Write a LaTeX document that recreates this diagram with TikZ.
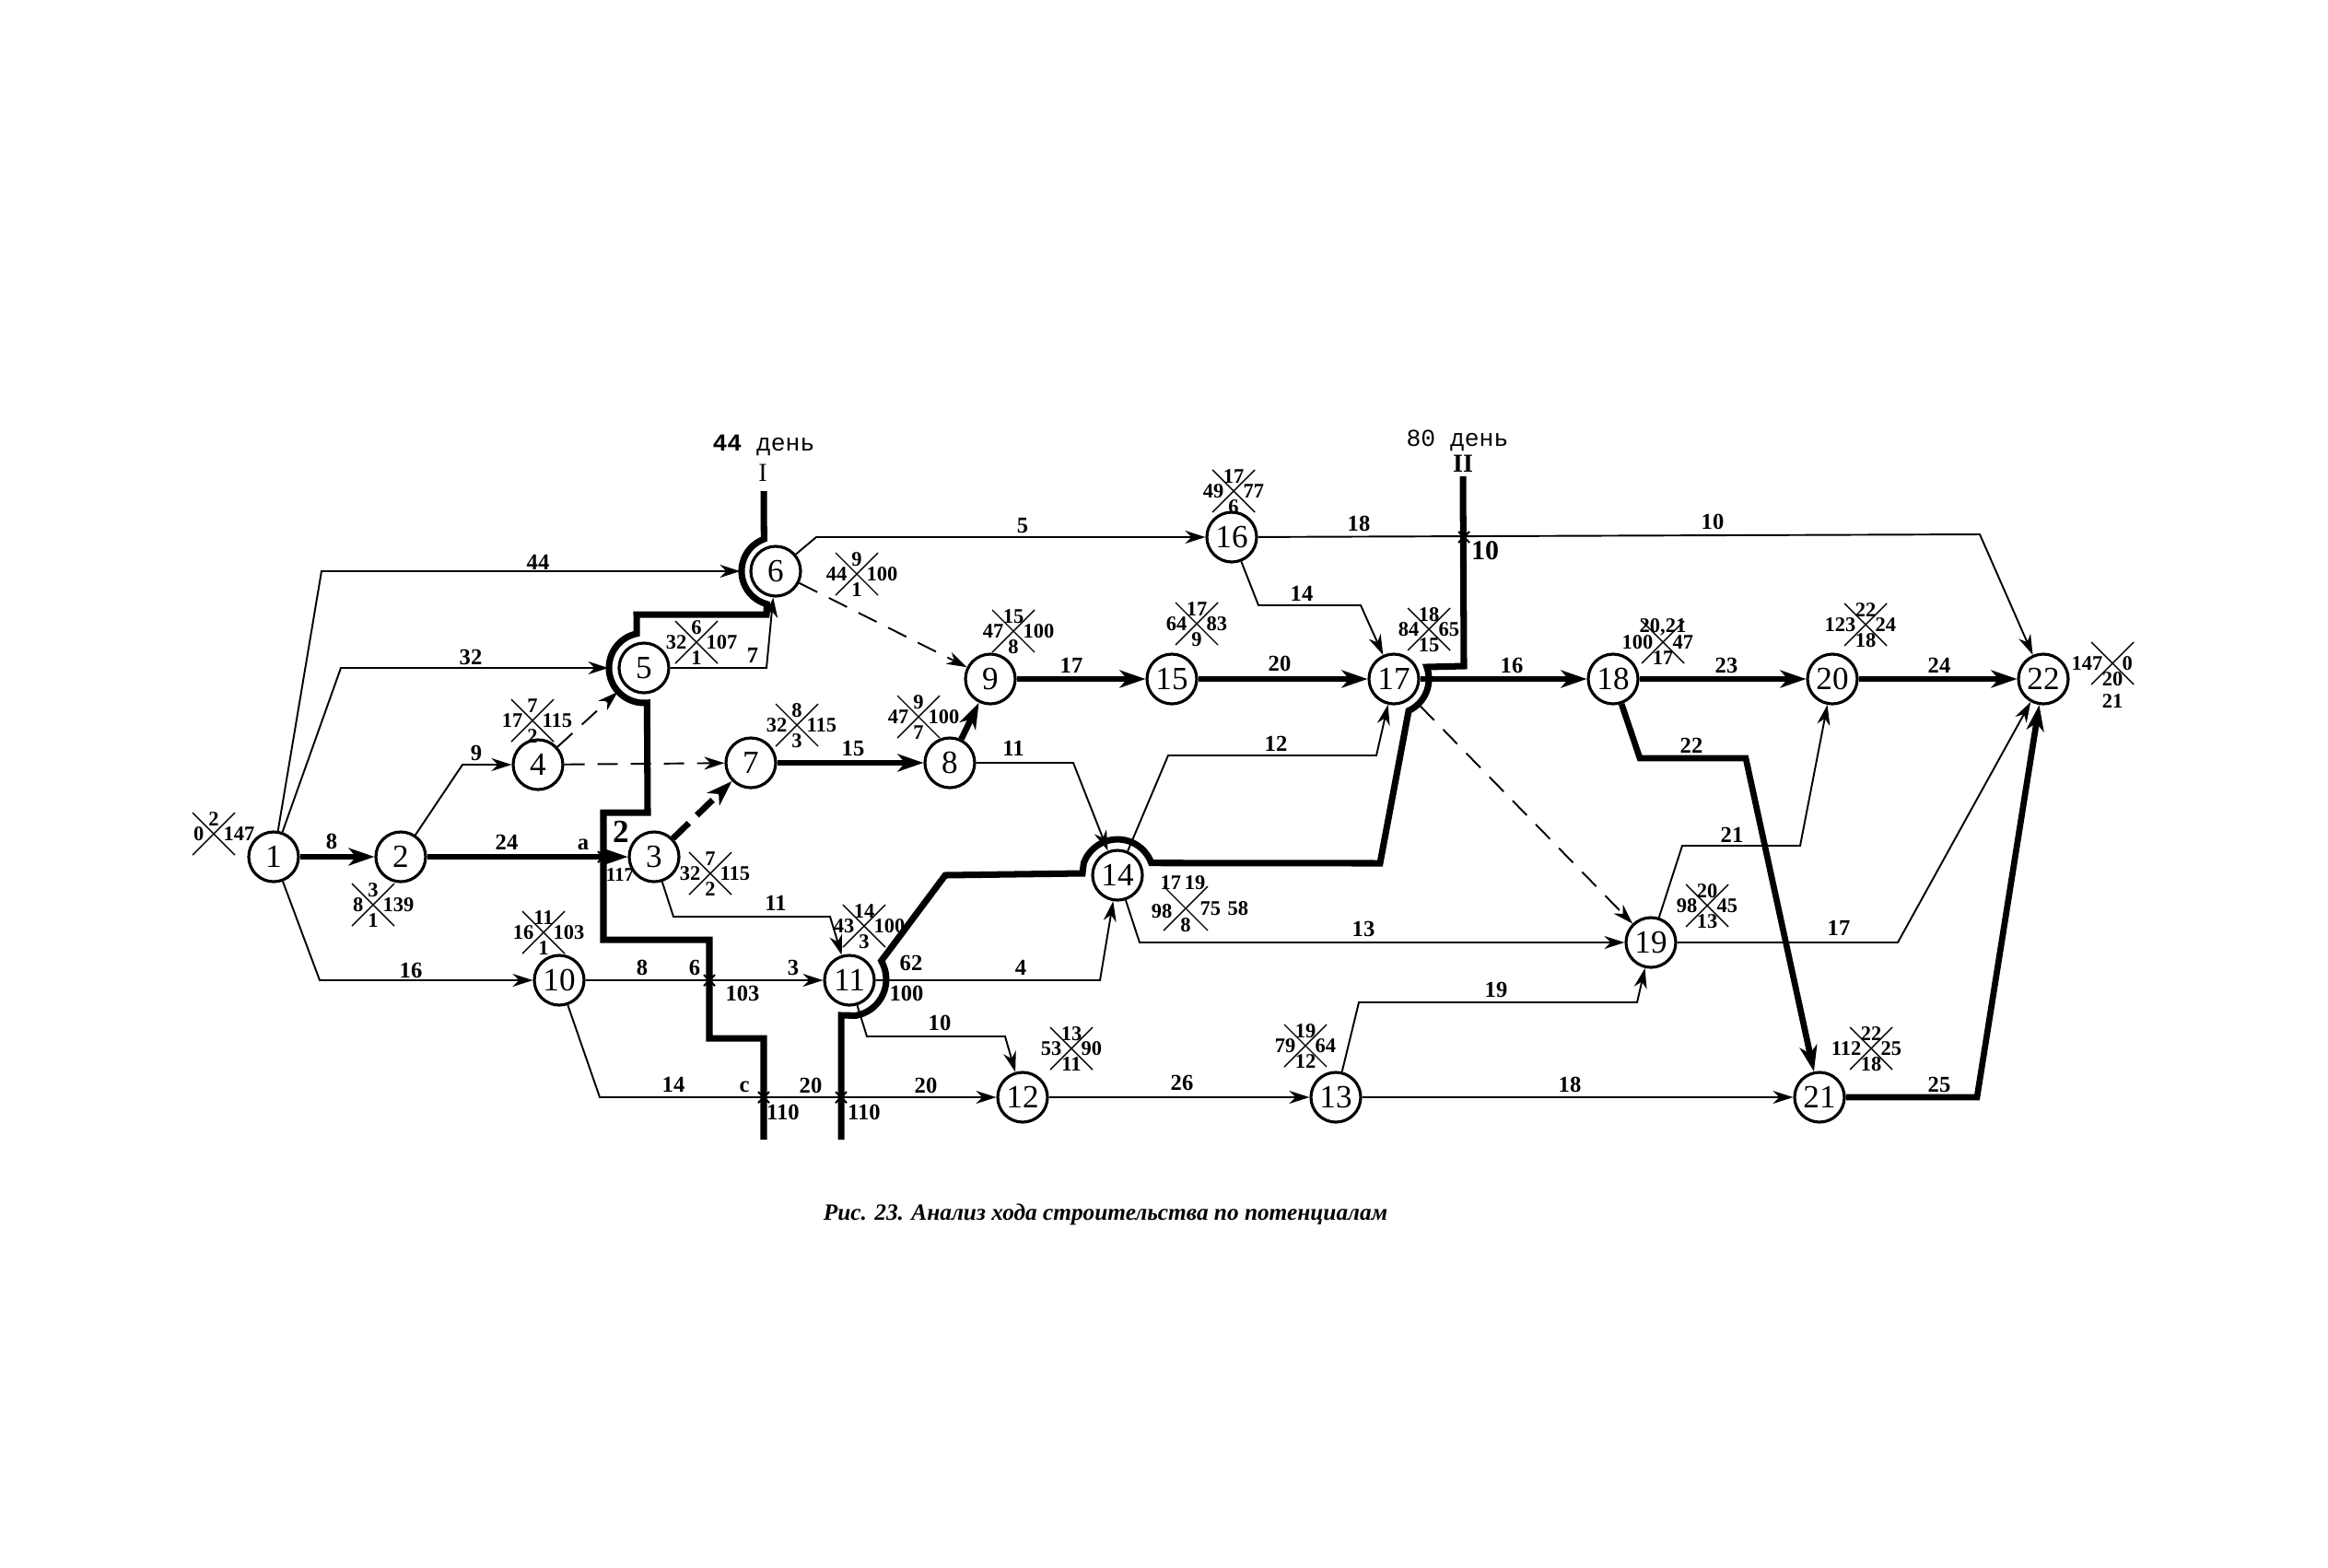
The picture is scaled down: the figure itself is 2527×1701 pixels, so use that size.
\documentclass[tikz,border=0pt]{standalone}
\usepackage{fontspec}
\setmainfont{Liberation Serif}
\newfontfamily\monof{Liberation Mono}
\usetikzlibrary{arrows.meta}
\tikzset{
 nd/.style={circle,draw,fill=white,line width=0.9pt,minimum size=5.4mm,inner sep=0pt,font=\fontsize{10}{10}\selectfont},
 ln/.style={line width=0.55pt},
 ar/.style={ln,-{Stealth[length=2.2mm,width=1.4mm,inset=0.7mm]}},
 tk/.style={line width=1.9pt},
 tar/.style={tk,-{Stealth[length=2.8mm,width=1.9mm,inset=0.8mm]}},
 dar/.style={ar,dash pattern=on 2.2mm off 1.4mm},
 tdar/.style={tar,dash pattern=on 2.4mm off 1.2mm},
 bnd/.style={line width=2.0pt,line join=miter},
 el/.style={font=\fontsize{7}{8}\selectfont\bfseries,inner sep=0pt},
 qn/.style={font=\fontsize{6.4}{7}\selectfont\bfseries,inner sep=0pt},
 qx/.style={line width=0.4pt},
 xmk/.style={line width=0.6pt},
}
\newcommand\ql[6]{%
 \begin{scope}[shift={(#2)}]
  \draw[qx] (-23,-23) -- (23,23) (23,-23) -- (-23,23);
  \node[qn] (#1t) at (0,-16) {#3};
  \node[qn,anchor=east] (#1l) at (-10,0) {#4};
  \node[qn,anchor=west] (#1r) at (10,0) {#5};
  \node[qn] (#1b) at (0,17) {#6};
 \end{scope}}
\newcommand\xm[1]{%
 \begin{scope}[shift={(#1)}]
  \draw[xmk] (-6,-6) -- (6,6) (6,-6) -- (-6,6);
 \end{scope}}
\begin{document}
\begin{tikzpicture}[x=0.1mm,y=-0.1mm]
\useasboundingbox (0,0) rectangle (2527,1701);
% nodes
\node[nd] (n1) at (297,930) {1};
\node[nd] (n2) at (435,930) {2};
\node[nd] (n3) at (710,930) {3};
\node[nd] (n4) at (584,830) {4};
\node[nd] (n5) at (699,725) {5};
\node[nd] (n6) at (842,620) {6};
\node[nd] (n7) at (815,828) {7};
\node[nd] (n8) at (1031,828) {8};
\node[nd] (n9) at (1075,737) {9};
\node[nd] (n10) at (607,1064) {10};
\node[nd] (n11) at (922,1064) {11};
\node[nd] (n12) at (1110,1191) {12};
\node[nd] (n13) at (1450,1191) {13};
\node[nd] (n14) at (1213,950) {14};
\node[nd] (n15) at (1272,737) {15};
\node[nd] (n16) at (1337,583) {16};
\node[nd] (n17) at (1513,737) {17};
\node[nd] (n18) at (1751,737) {18};
\node[nd] (n19) at (1792,1023) {19};
\node[nd] (n20) at (1989,737) {20};
\node[nd] (n21) at (1975,1191) {21};
\node[nd] (n22) at (2218,737) {22};
% edges
\draw[ar,shorten >=1mm] (n1) -- (349,620) -- (n6);
\draw[ar,shorten >=1mm] (n1) -- (370,725) -- (n5);
\draw[tar] (n1) -- (n2);
\draw[ar] (n1) -- (347,1064) -- (n10);
\draw[ar] (n2) -- (502,830) -- (n4);
\draw[tar] (n2) -- (n3);
\draw[dar,shorten >=1mm] (n4) -- (n5);
\draw[dar] (n4) -- (n7);
\draw[ar] (n5) -- (832,725) -- (n6);
\draw[ar] (n6) -- (886,583) -- (n16);
\draw[dar] (n6) -- (n9);
\draw[tdar] (n3) -- (n7);
\draw[ar] (n3) -- (731,995) -- (901,995) -- (n11);
\draw[tar] (n7) -- (n8);
\draw[tar] (n8) -- (n9);
\draw[ar] (n8) -- (1165,828) -- (n14);
\draw[tar] (n9) -- (n15);
\draw[ar] (n10) -- (n11);
\draw[ar] (n10) -- (651,1191) -- (n12);
\draw[ar] (n11) -- (1194,1064) -- (n14);
\draw[ar] (n11) -- (941,1125) -- (1091,1125) -- (n12);
\draw[ar] (n12) -- (n13);
\draw[ar] (n13) -- (1475,1088) -- (1777,1088) -- (n19);
\draw[ar] (n13) -- (n21);
\draw[ar] (n14) -- (1268,820) -- (1494,820) -- (n17);
\draw[ar] (n14) -- (1237,1023) -- (n19);
\draw[tar] (n15) -- (n17);
\draw[ar] (n16) -- (1366,657) -- (1477,657) -- (n17);
\draw[ar] (n16) -- (2149,580) -- (n22);
\draw[tar] (n17) -- (n18);
\draw[dar,shorten <=1.2mm] (n17) -- (n19);
\draw[tar] (n18) -- (n20);
\draw[tar] (n18) -- (1780,823) -- (1895,823) -- (n21);
\draw[ar] (n19) -- (1826,918) -- (1954,918) -- (n20);
\draw[ar] (n19) -- (2060,1023) -- (n22);
\draw[tar] (n20) -- (n22);
\draw[tar] (n21) -- (2146,1191) -- (n22);
% boundary lines
\draw[bnd] (829,533) -- (829.3,585.2) arc[start angle=110,end angle=255,radius=3.7mm] -- (832,667) -- (691,667) -- (691.1,687.8) arc[start angle=102,end angle=275,radius=3.8mm] -- (703,882) -- (655,882) -- (655,1020) -- (770,1020) -- (770,1127) -- (829,1127) -- (829,1237);
\draw[bnd] (1588,517) -- (1589,723) -- (1548.7,724) arc[start angle=20,end angle=-65,radius=3.8mm] -- (1498,937) -- (1249.7,936.7) arc[start angle=20,end angle=160,radius=3.9mm] -- (1175,948) -- (1026,950) -- (956.6,1043) arc[start angle=30,end angle=-80,radius=4mm] -- (913,1102) -- (913,1237);
\xm{655,930}
\xm{770,1064}
\xm{829,1191}
\xm{913,1191}
\xm{1589,583}
% quad labels
\ql{q1}{232,905}{2}{0}{147}{}
\ql{q2}{405,982}{3}{8}{139}{1}
\ql{q3}{771,948}{7}{32}{115}{2}
\ql{q4}{578,782}{7}{17}{115}{2}
\ql{q5}{756,697}{6}{32}{107}{1}
\ql{q6}{930,623}{9}{44}{100}{1}
\ql{q7}{865,787}{8}{32}{115}{3}
\ql{q8}{997,778}{9}{47}{100}{7}
\ql{q9}{1100,685}{15}{47}{100}{8}
\ql{q10}{590,1012}{11}{16}{103}{1}
\ql{q11}{938,1005}{14}{43}{100}{3}
\ql{q12}{1163,1138}{13}{53}{90}{11}
\ql{q13}{1417,1135}{19}{79}{64}{12}
\begin{scope}[shift={(1287,986)}]
 \draw[qx] (-24,-24) -- (24,24) (24,-24) -- (-24,24);
 \node[qn] (q14t) at (-3,-28) {17\,19};
 \node[qn,anchor=east] (q14l) at (-14,3) {98};
 \node[qn,anchor=west] (q14r) at (15,0) {75\,\,58};
 \node[qn] (q14b) at (0,18) {8};
\end{scope}
\ql{q15}{1299,677}{17}{64}{83}{9}
\ql{q16}{1339,533}{17}{49}{77}{6}
\ql{q17}{1551,683}{18}{84}{65}{15}
\ql{q18}{1805,697}{20,21}{100}{47}{17}
\ql{q19}{1853,983}{20}{98}{45}{13}
\ql{q20}{2025,678}{22}{123}{24}{18}
\ql{q21}{2031,1138}{22}{112}{25}{18}
\ql{q22}{2293,720}{}{147}{0}{20}
\node[qn] (q22c) at (2293,761) {21};
% edge labels
\node[el] (t1) at (584,610) {44};
\node[el] (t2) at (511,713) {32};
\node[el] (t3) at (360,913) {8};
\node[el] (t4) at (446,1053) {16};
\node[el] (t5) at (517,817) {9};
\node[el] (t6) at (550,914) {24};
\node[el] (t7) at (817,711) {7};
\node[el] (t8) at (1110,571) {5};
\node[el] (t9) at (842,980) {11};
\node[el] (t10) at (926,812) {15};
\node[el] (t11) at (1100,812) {11};
\node[el] (t12) at (1163,722) {17};
\node[el] (t13) at (697,1050) {8};
\node[el] (t14) at (754,1050) {6};
\node[el] (t15) at (806,1078) {103};
\node[el] (t16) at (861,1050) {3};
\node[el] (t17) at (731,1177) {14};
\node[el] (t18) at (808,1180) {с};
\node[el] (t19) at (850,1207) {110};
\node[el] (t20) at (880,1178) {20};
\node[el] (t21) at (938,1207) {110};
\node[el] (t22) at (1005,1178) {20};
\node[el] (t23) at (1108,1050) {4};
\node[el] (t24) at (1020,1110) {10};
\node[el] (t25) at (989,1045) {62};
\node[el] (t26) at (984,1078) {100};
\node[el] (t27) at (1283,1175) {26};
\node[el] (t28) at (1624,1074) {19};
\node[el] (t29) at (1704,1177) {18};
\node[el] (t30) at (1385,807) {12};
\node[el] (t31) at (1480,1008) {13};
\node[el] (t32) at (1389,720) {20};
\node[el] (t33) at (1413,644) {14};
\node[el] (t34) at (1475,568) {18};
\node[el] (t35) at (1859,566) {10};
\node[el,font=\fontsize{8.5}{9}\selectfont\bfseries] (t36) at (1612,598) {10};
\node[el] (t37) at (1641,722) {16};
\node[el] (t38) at (1874,722) {23};
\node[el] (t39) at (1836,809) {22};
\node[el] (t40) at (1880,906) {21};
\node[el] (t41) at (1996,1007) {17};
\node[el] (t42) at (2105,722) {24};
\node[el] (t43) at (2105,1177) {25};
\node[el] (t44) at (633,917) {а};
\node[el,font=\fontsize{10}{10}\selectfont\bfseries] (t45) at (674,903) {2};
\node[el,font=\fontsize{6}{7}\selectfont\bfseries] (t46) at (673,950) {117};
% day markers
\node[font=\monof\fontsize{7.5}{9}\selectfont,inner sep=0pt] (d44) at (829,483) {\textbf{44} день};
\node[font=\fontsize{8}{9}\selectfont,inner sep=0pt] (r1) at (828,513) {I};
\node[font=\monof\fontsize{7.5}{9}\selectfont,inner sep=0pt] (d80) at (1582,478) {80 день};
\node[font=\fontsize{8}{9}\selectfont\bfseries,inner sep=0pt] (r2) at (1588,503) {II};
% caption
\node[font=\fontsize{7.2}{8}\selectfont\bfseries\itshape,inner sep=0pt] (cap) at (1200,1318) {Рис. 23. Анализ хода строительства по потенциалам};
\end{tikzpicture}
\end{document}
